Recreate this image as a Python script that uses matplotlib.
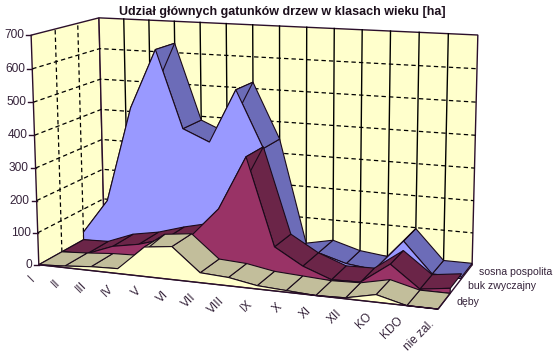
import numpy as np
import matplotlib
matplotlib.use("Agg")
import matplotlib.pyplot as plt

plt.rcParams['font.family'] = ['Liberation Sans', 'DejaVu Sans']

# dane [ha]
klasy = ["I", "II", "III", "IV", "V", "VI", "VII", "VIII", "IX", "X", "XI", "XII", "KO", "KDO", "nie zal."]
deby = [0, 5, 12, 15, 90, 100, 30, 25, 10, 5, 0, 3, 22, 0, 0]
buk = [0, 3, 35, 50, 75, 95, 185, 350, 85, 35, 3, 5, 68, 3, 15]
sosna = [25, 137, 442, 630, 388, 352, 520, 345, 17, 35, 10, 0, 97, 5, 5]
serie = ["dęby", "buk zwyczajny", "sosna pospolita"]
y_ticks = [0, 100, 200, 300, 400, 500, 600, 700]

# (klasa, glebokosc, wartosc) -> piksel: punkty zaczepienia rogow wykresu
rogi_3d = [(0, 0, 0), (0, 0, 700), (0, 3, 0), (0, 3, 700), (14, 3, 0), (14, 3, 700), (14, 0, 0)]
rogi_px = [(38, 265), (32, 35), (105, 228), (98, 18), (472, 265), (478, 35), (438, 309)]

A = []
b = []
for (x, d, v), (u, w) in zip(rogi_3d, rogi_px):
    A.append([x, d, v, 1, 0, 0, 0, 0, -u * x, -u * d, -u * v])
    A.append([0, 0, 0, 0, x, d, v, 1, -w * x, -w * d, -w * v])
    b += [u, w]
P = np.linalg.lstsq(np.array(A, float), np.array(b, float), rcond=None)[0]
P = np.append(P, 1).reshape(3, 4)


def proj(x, d, v):
    x, d, v = np.broadcast_arrays(np.asarray(x, float), np.asarray(d, float), np.asarray(v, float))
    p = np.stack([x, d, v, np.ones_like(x)])
    q = P @ p.reshape(4, -1)
    return q[0] / q[2], q[1] / q[2]


def punkt(x, d, v):
    px, py = proj(x, d, v)
    return float(px[0]), float(py[0])


fig = plt.figure(figsize=(5.55, 3.52), dpi=100, facecolor="white")
ax = fig.add_axes([0, 0, 1, 1])
ax.set_xlim(0, 555)
ax.set_ylim(352, 0)
ax.axis("off")

ramka = "#2b0f2b"
tekst = "#35233a"
sciana = "#FFFFCC"
n = len(klasy)
xs = np.arange(n)

# sciany
ax.fill(*proj([0, 0, 0, 0], [0, 3, 3, 0], [0, 0, 700, 700]), fc=sciana, ec=ramka, lw=1, zorder=1)
ax.fill(*proj([0, 14, 14, 0], [3, 3, 3, 3], [0, 0, 700, 700]), fc=sciana, ec=ramka, lw=1, zorder=1)

for v in y_ticks[1:-1]:
    ax.plot(*proj([0, 0, 14], [0, 3, 3], [v, v, v]), color="black", lw=0.9, ls=(0, (3.5, 2.5)), zorder=2)
for d in [1, 2]:
    ax.plot(*proj([0, 0], [d, d], [0, 700]), color="black", lw=0.9, ls=(0, (3.5, 2.5)), zorder=2)
for k in range(1, n - 1):
    ax.plot(*proj([k, k], [3, 3], [0, 700]), color="black", lw=1, zorder=2)

# serie od tylu do przodu
style = [(deby, 0, sciana, "#C2BE9B"), (buk, 1, "#993366", "#6B2548"), (sosna, 2, "#9999FF", "#6C6CB8")]
z = 3
for wart, d, kol_przod, kol_gora in style[::-1]:
    wart = np.array(wart, float)
    for k in range(n - 2, -1, -1):
        px, py = proj([k, k + 1, k + 1, k], [d, d, d + 1, d + 1], [wart[k], wart[k + 1], wart[k + 1], wart[k]])
        ax.fill(px, py, fc=kol_gora, ec="#1a0a1a", lw=0.8, zorder=z)
        z += 1
    px, py = proj(np.r_[xs, n - 1, 0], d, np.r_[wart, 0, 0])
    ax.fill(px, py, fc=kol_przod, ec="#1a0a1a", lw=0.8, zorder=z)
    z += 1

# osie
ax.plot(*proj([0, 14, 14], [0, 0, 3], [0, 0, 0]), color=ramka, lw=1, zorder=z)
for v in y_ticks:
    px, py = punkt(0, 0, v)
    ax.plot([px - 5, px], [py, py], color=ramka, lw=1, zorder=z)
    ax.text(px - 7, py, str(v), ha="right", va="center", fontsize=8.6, color=tekst)

for k, nazwa in enumerate(klasy):
    px, py = punkt(k, 0, 0)
    ax.text(px - 6, py + 13, nazwa, rotation=45, rotation_mode="anchor", ha="right", va="center",
            fontsize=8.6, color=tekst)

for d, nazwa in enumerate(serie):
    px, py = punkt(14, d, 0)
    ax.text(px + 18, py - 7, nazwa, ha="left", va="center", fontsize=7.6, color=tekst)

ax.text(282, 12, "Udział głównych gatunków drzew w klasach wieku [ha]", ha="center", va="center",
        fontsize=9, fontweight="bold", color="#1c0f1c")

fig.savefig("out.png", dpi=100)
